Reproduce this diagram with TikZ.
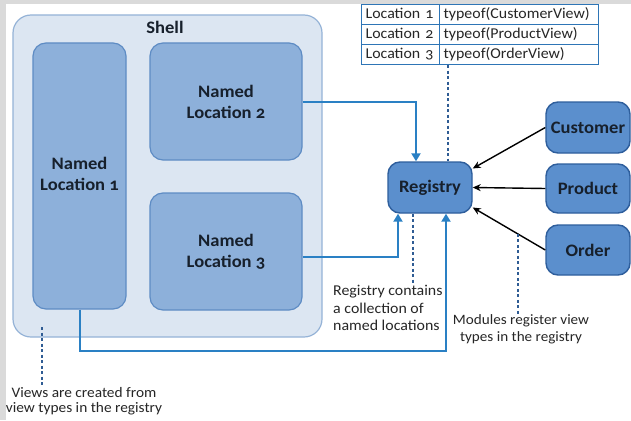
\documentclass[tikz,border=0pt]{standalone}
\usepackage{fontspec}
\setmainfont{Carlito}[Numbers=OldStyle, FakeStretch=1.06]
\usetikzlibrary{arrows.meta}
\definecolor{bggray}{HTML}{DADADA}
\definecolor{shellfill}{HTML}{DCE6F2}
\definecolor{shelldraw}{HTML}{95B3D7}
\definecolor{locfill}{HTML}{8DB0DA}
\definecolor{locdraw}{HTML}{5E8CC4}
\definecolor{modfill}{HTML}{5B8FCD}
\definecolor{moddraw}{HTML}{2E5E9C}
\definecolor{connc}{HTML}{2A80C4}
\definecolor{dotc}{HTML}{2F5C94}
\definecolor{txt}{HTML}{17202C}
\definecolor{tblc}{HTML}{2E75B6}
\definecolor{notec}{HTML}{262626}
\tikzset{
  shellbox/.style={draw=shelldraw, fill=shellfill, line width=1.2pt, rounded corners=18pt},
  locbox/.style={draw=locdraw, fill=locfill, line width=1.2pt, rounded corners=13pt,
    text=txt, font=\fontsize{17.5}{21}\selectfont\bfseries, align=center},
  modbox/.style={draw=moddraw, fill=modfill, line width=1.4pt, rounded corners=12pt,
    minimum width=84pt, text=txt, font=\fontsize{17.5}{21}\selectfont\bfseries, align=center},
  cell/.style={draw=tblc, line width=1.2pt, fill=white, anchor=north west, minimum height=20pt,
    inner ysep=0pt, inner xsep=4pt, align=left, text=notec, text height=10.5pt, text depth=3pt,
    font=\fontsize{15}{16}\selectfont},
  connarrow/.style={draw=connc, line width=2pt, -{Triangle[width=9pt,length=8pt]}},
  blkarrow/.style={draw=black, line width=1.4pt, -{Stealth[width=7pt,length=8pt]}},
  dotline/.style={draw=dotc, line width=2.2pt, dash pattern=on 3pt off 2.5pt},
  note/.style={text=notec, inner sep=0pt, font=\fontsize{15}{17.5}\selectfont}
}
\begin{document}
\begin{tikzpicture}[x=1pt,y=-1pt]
\useasboundingbox (0,0) rectangle (631,420);
\fill[bggray] (0,0) rectangle (631,420);
\fill[white] (6,4) rectangle (631,420);

% shell
\node[shellbox, minimum width=309pt, minimum height=322pt] (shell) at (167.5,176) {};
\node[text=txt, font=\fontsize{17.5}{21}\selectfont\bfseries] (shelltitle) at (165,27) {Shell};

% named locations
\node[locbox, minimum width=93pt, minimum height=266pt] (nl1) at (79.5,176) {\raisebox{5pt}{\begin{tabular}{@{}c@{}}Named\\Location 1\end{tabular}}};
\node[locbox, minimum width=152pt, minimum height=117pt] (nl2) at (226,101.5) {Named\\Location 2};
\node[locbox, minimum width=152pt, minimum height=117pt] (nl3) at (226,251.5) {Named\\Location 3};

% registry and modules
\node[modbox, minimum height=51pt] (reg) at (430,187.5) {Registry};
\node[modbox, minimum height=51pt] (cust) at (588,127.5) {Customer};
\node[modbox, minimum height=49pt] (prod) at (588,188.5) {Product};
\node[modbox, minimum height=50pt] (order) at (588,250) {Order};

% table
\node[cell, minimum width=78pt, text width=70pt] (t11) at (361,4) {Location 1};
\node[cell, minimum width=159pt, text width=151pt] (t12) at (439,4) {typeof(CustomerView)};
\node[cell, minimum width=78pt, text width=70pt] (t21) at (361,24) {Location 2};
\node[cell, minimum width=159pt, text width=151pt] (t22) at (439,24) {typeof(ProductView)};
\node[cell, minimum width=78pt, text width=70pt] (t31) at (361,44) {Location 3};
\node[cell, minimum width=159pt, text width=151pt] (t32) at (439,44) {typeof(OrderView)};

% connectors to registry
\draw[connarrow] (nl2.east) -| ([xshift=-14pt]reg.north);
\draw[connarrow] ([yshift=-5.5pt]nl3.east) -| ([xshift=-32pt]reg.south);
\coordinate (lowrun) at (0,351);
\draw[connarrow] (nl1.south) -- (nl1.south |- lowrun) -| ([xshift=16pt]reg.south);

\draw[blkarrow] (cust.west) -- ([yshift=19pt]reg.east);
\draw[blkarrow] (prod.west) -- (reg.east);
\draw[blkarrow] (order.west) -- ([yshift=-20pt]reg.east);

% notes
\node[note, anchor=north west, align=left] (regnote) at (333,285) {Registry contains\\a collection of\\named locations};
\node[note, anchor=north, align=center, font=\fontsize{14.3}{17.5}\selectfont] (modnote) at (521,314) {Modules register view\\types in the registry};
\node[note, anchor=north, align=center, font=\fontsize{14.5}{15.5}\selectfont] (viewnote) at (84,387) {Views are created from\\view types in the registry};

% dotted leaders
\draw[dotline] ([xshift=8pt]t31.south east) -- ([xshift=8pt]t31.south east |- reg.north);
\draw[dotline] ([xshift=-17pt]reg.south) -- ([xshift=-17pt]reg.south |- regnote.north);
\path (order.west) -- ([yshift=-20pt]reg.east) coordinate[pos=0.38] (modfoot);
\draw[dotline] (modfoot) -- (modfoot |- modnote.north);
\coordinate (viewtop) at (42,327);
\draw[dotline] (viewtop) -- (viewtop |- viewnote.north);
\end{tikzpicture}
\end{document}
